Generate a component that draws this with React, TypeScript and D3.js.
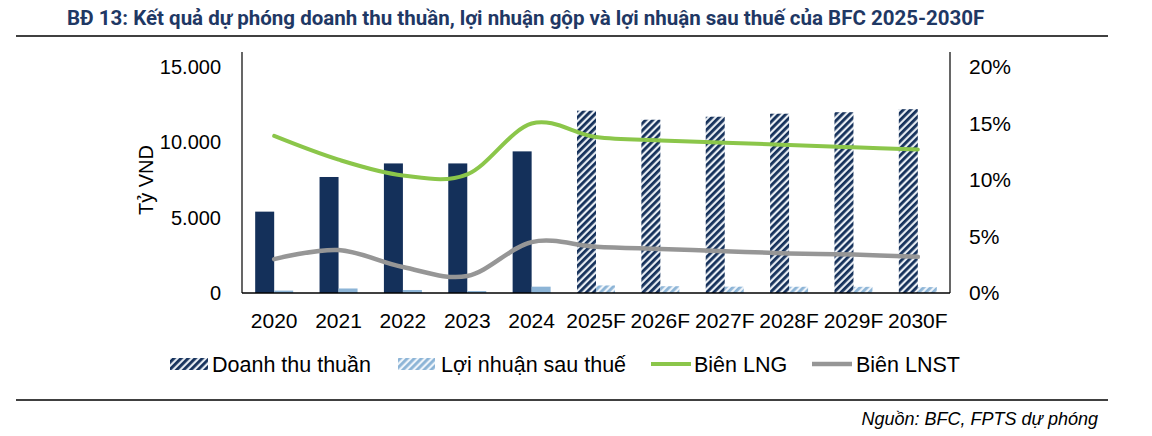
import * as d3 from 'd3';
import React from 'react';

const years = ['2020', '2021', '2022', '2023', '2024', '2025F', '2026F', '2027F', '2028F', '2029F', '2030F'];
const forecast = [false, false, false, false, false, true, true, true, true, true, true];
const revenue = [5400, 7700, 8600, 8600, 9400, 12100, 11500, 11700, 11900, 12000, 12200];
const netProfit = [160, 300, 200, 130, 420, 500, 450, 420, 415, 410, 390];
const grossMargin = [13.9, 11.8, 10.4, 10.5, 15.0, 13.8, 13.5, 13.3, 13.1, 12.9, 12.7];
const netMargin = [3.0, 3.8, 2.3, 1.5, 4.5, 4.1, 3.9, 3.7, 3.5, 3.4, 3.2];
const leftTicks = [0, 5000, 10000, 15000];
const rightTicks = [0, 5, 10, 15, 20];

const NAVY = '#14305a';
const LIGHT = '#8cb4d6';
const GREEN = '#8bc64a';
const GRAY = '#969696';
const FONT = '"Liberation Sans", Arial, sans-serif';

const fmt = (v: number) => d3.format(',')(v).replace(/,/g, '.');

export default function App() {
  const plot = { left: 242, right: 950, top: 67, bottom: 293 };

  const x = d3.scaleBand<string>().domain(years).range([plot.left, plot.right]);
  const yL = d3.scaleLinear().domain([0, 15000]).range([plot.bottom, plot.top]);
  const yR = d3.scaleLinear().domain([0, 20]).range([plot.bottom, plot.top]);
  const barW = 19;
  const cx = (i: number) => (x(years[i]) as number) + x.bandwidth() / 2;

  const line = d3
    .line<number>()
    .x((_, i) => cx(i))
    .curve(d3.curveCardinal.tension(0));
  const greenPath = line.y(d => yR(d))(grossMargin) as string;
  const grayPath = line.y(d => yR(d))(netMargin) as string;

  const legendY = 364;

  return (
    <svg width={1152} height={436} style={{ position: 'absolute', left: 0, top: 0, background: '#fff' }}>
      <defs>
        <pattern id="hatchNavy" patternUnits="userSpaceOnUse" width={5} height={5} patternTransform="rotate(45)">
          <rect width={5} height={5} fill="#e8edf3" />
          <rect width={2.8} height={5} fill={NAVY} />
        </pattern>
        <pattern id="hatchLight" patternUnits="userSpaceOnUse" width={5} height={5} patternTransform="rotate(45)">
          <rect width={5} height={5} fill="#eef4fa" />
          <rect width={2.8} height={5} fill={LIGHT} />
        </pattern>
      </defs>

      <text x={67} y={25} fontFamily="Roboto, sans-serif" fontWeight="bold" fontSize={20.5} fill="#1f3864">
        BĐ 13: Kết quả dự phóng doanh thu thuần, lợi nhuận gộp và lợi nhuận sau thuế của BFC 2025-2030F
      </text>
      <line x1={16} x2={1108} y1={36} y2={36} stroke="#000" strokeWidth={1.5} />

      {/* bars */}
      {years.map((yr, i) => (
        <g key={yr}>
          <rect
            x={cx(i) - barW}
            y={yL(revenue[i])}
            width={barW}
            height={plot.bottom - yL(revenue[i])}
            fill={forecast[i] ? 'url(#hatchNavy)' : NAVY}
          />
          <rect
            x={cx(i)}
            y={yL(netProfit[i])}
            width={barW}
            height={plot.bottom - yL(netProfit[i])}
            fill={forecast[i] ? 'url(#hatchLight)' : LIGHT}
          />
        </g>
      ))}

      <path d={greenPath} fill="none" stroke={GREEN} strokeWidth={4} strokeLinecap="round" />
      <path d={grayPath} fill="none" stroke={GRAY} strokeWidth={4.5} strokeLinecap="round" />

      {/* axes */}
      <line x1={plot.left} x2={plot.left} y1={plot.top - 15} y2={plot.bottom} stroke="#000" strokeWidth={1.2} />
      <line x1={plot.right} x2={plot.right} y1={plot.top - 15} y2={plot.bottom} stroke="#000" strokeWidth={1.2} />
      <line x1={plot.left} x2={plot.right} y1={plot.bottom} y2={plot.bottom} stroke="#000" strokeWidth={1.5} />

      {leftTicks.map(t => (
        <text key={t} x={221} y={yL(t)} dy="0.35em" textAnchor="end" fontFamily={FONT} fontSize={20} fill="#000">
          {fmt(t)}
        </text>
      ))}
      {rightTicks.map(t => (
        <text key={t} x={969} y={yR(t)} dy="0.35em" textAnchor="start" fontFamily={FONT} fontSize={21} fill="#000">
          {t}%
        </text>
      ))}
      {years.map((yr, i) => (
        <text key={yr} x={cx(i)} y={321} dy="0.35em" textAnchor="middle" fontFamily={FONT} fontSize={21} fill="#000">
          {yr}
        </text>
      ))}
      <text
        transform={`translate(146,${(plot.top + plot.bottom) / 2}) rotate(-90)`}
        textAnchor="middle"
        dy="0.35em"
        fontFamily={FONT}
        fontSize={20}
        fill="#000"
      >
        Tỷ VND
      </text>

      {/* legend */}
      <rect x={170} y={legendY - 6} width={38} height={12} fill="url(#hatchNavy)" />
      <text x={212} y={legendY} dy="0.35em" fontFamily={FONT} fontSize={21.5}>Doanh thu thuần</text>
      <rect x={398} y={legendY - 6} width={37} height={12} fill="url(#hatchLight)" />
      <text x={441} y={legendY} dy="0.35em" fontFamily={FONT} fontSize={21.5}>Lợi nhuận sau thuế</text>
      <line x1={651} x2={691} y1={legendY} y2={legendY} stroke={GREEN} strokeWidth={4} />
      <text x={694} y={legendY} dy="0.35em" fontFamily={FONT} fontSize={21.5}>Biên LNG</text>
      <line x1={812} x2={852} y1={legendY} y2={legendY} stroke={GRAY} strokeWidth={4.5} />
      <text x={856} y={legendY} dy="0.35em" fontFamily={FONT} fontSize={21.5}>Biên LNST</text>

      <line x1={16} x2={1108} y1={400} y2={400} stroke="#000" strokeWidth={1.5} />
      <text x={1098} y={419} dy="0.35em" textAnchor="end" fontFamily={FONT} fontStyle="italic" fontSize={18}>
        Nguồn: BFC, FPTS dự phóng
      </text>
    </svg>
  );
}
